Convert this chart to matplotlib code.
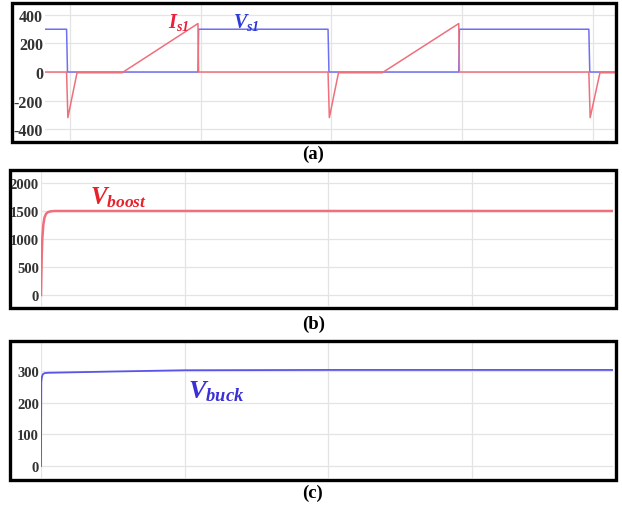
import matplotlib
matplotlib.use("Agg")
import matplotlib.pyplot as plt
from matplotlib.patches import Rectangle

plt.rcParams['mathtext.fontset'] = 'custom'
plt.rcParams['mathtext.it'] = 'Liberation Serif:italic:bold'
plt.rcParams['mathtext.rm'] = 'Liberation Serif:italic:bold'
plt.rcParams['mathtext.bf'] = 'Liberation Serif:bold'

# ---------------- data ----------------
# (a) switch waveforms (time in grid divisions)
t_vs1 = [0.80, 0.975, 0.982, 1.98, 1.985, 2.975, 2.982, 3.975, 3.98, 4.97, 4.977, 5.18]
v_vs1 = [300, 300, 0, 0, 300, 300, 0, 0, 300, 300, 0, 0]
t_is1 = [0.80, 0.975, 0.985, 1.055, 1.40, 1.98, 1.985, 2.975, 2.985, 3.055, 3.39,
         3.975, 3.98, 4.97, 4.98, 5.055, 5.18]
i_is1 = [0, 0, -320, -5, -5, 340, 0, 0, -320, -5, -5, 340, 0, 0, -320, -5, -5]
yticks_a = [-400, -200, 0, 200, 400]

# (b) boost output voltage
t_boost = [0.0, 0.002, 0.005, 0.009, 0.016, 0.024, 0.035, 0.049, 0.07, 0.10, 3.98]
v_boost = [0, 300, 700, 1000, 1250, 1380, 1450, 1480, 1495, 1500, 1500]
yticks_b = [0, 500, 1000, 1500, 2000]

# (c) buck output voltage
t_buck = [0.0, 0.002, 0.006, 0.012, 0.025, 0.05, 0.5, 1.0, 2.0, 3.98]
v_buck = [0, 265, 280, 289, 293, 294, 298, 302, 303, 303]
yticks_c = [0, 100, 200, 300]

# ---------------- figure ----------------
W, H = 622, 506
fig = plt.figure(figsize=(W / 100, H / 100), dpi=100)
fig.patch.set_facecolor('white')

def ax_px(l, t, r, b):
    return fig.add_axes([l / W, 1 - b / H, (r - l) / W, (b - t) / H])

def box_px(l, t, r, b):
    fig.patches.append(Rectangle((l / W, 1 - b / H), (r - l) / W, (b - t) / H,
                                 transform=fig.transFigure, fill=False,
                                 edgecolor='black', lw=2.4, zorder=10))

def style(ax, yticks, xgrid, fs):
    for s in ax.spines.values():
        s.set_visible(False)
    ax.set_yticks(yticks)
    ax.set_yticklabels([str(v) for v in yticks], fontfamily='Liberation Serif',
                       fontweight='bold', fontsize=fs, color='#333333')
    ax.set_xticks(xgrid)
    ax.set_xticklabels([])
    ax.tick_params(length=0, pad=1.5)
    ax.grid(True, color='#e4e4e4', lw=0.9)
    ax.set_axisbelow(True)

red = '#ef6f7c'
blue = '#6f6ff2'

# (a)
axa = ax_px(45, 6, 615, 141)
axa.plot(t_vs1, v_vs1, color=blue, lw=1.1)
axa.plot(t_is1, i_is1, color=red, lw=1.1)
axa.set_xlim(0.81, 5.17)
axa.set_ylim(-477, 470)
style(axa, yticks_a, [1, 2, 3, 4, 5], 11.5)
box_px(12, 4, 616, 143)

# (b)
axb = ax_px(41, 173, 613, 307)
axb.plot(t_boost, v_boost, color=red, lw=1.8)
axb.set_xlim(0, 3.98)
axb.set_ylim(-196, 2196)
style(axb, yticks_b, [0, 1, 2, 3], 10.5)
axb.axvline(0, color='#cccccc', lw=1.2, zorder=0)
box_px(10, 171, 616, 309)

# (c)
axc = ax_px(41, 344, 613, 479)
axc.plot(t_buck, v_buck, color='#5a55e8', lw=1.3)
axc.set_xlim(0, 3.98)
axc.set_ylim(-38, 388)
style(axc, yticks_c, [0, 1, 2, 3], 10.5)
axc.axvline(0, color='#cccccc', lw=1.2, zorder=0)
box_px(10, 342, 616, 481)

# labels
def ftext(x, y, s, **kw):
    fig.text(x / W, 1 - y / H, s, va='baseline', ha='left', **kw)

ftext(168, 28, r'$I_{s1}$', fontsize=14.5, color='#e8203a')
ftext(233, 28, r'$V_{s1}$', fontsize=14.5, color='#2b3ad8')
ftext(90, 204, r'$V_{boost}$', fontsize=18, color='#e8202a')
ftext(188, 398, r'$V_{buck}$', fontsize=19, color='#3b2fd6')

cap = dict(fontfamily='Liberation Serif', fontweight='bold', fontsize=13.5, color='black')
ftext(302, 159, '(a)', **cap)
ftext(302, 329, '(b)', **cap)
ftext(302, 498, '(c)', **cap)

fig.savefig('out.png', dpi=100, facecolor='white')
